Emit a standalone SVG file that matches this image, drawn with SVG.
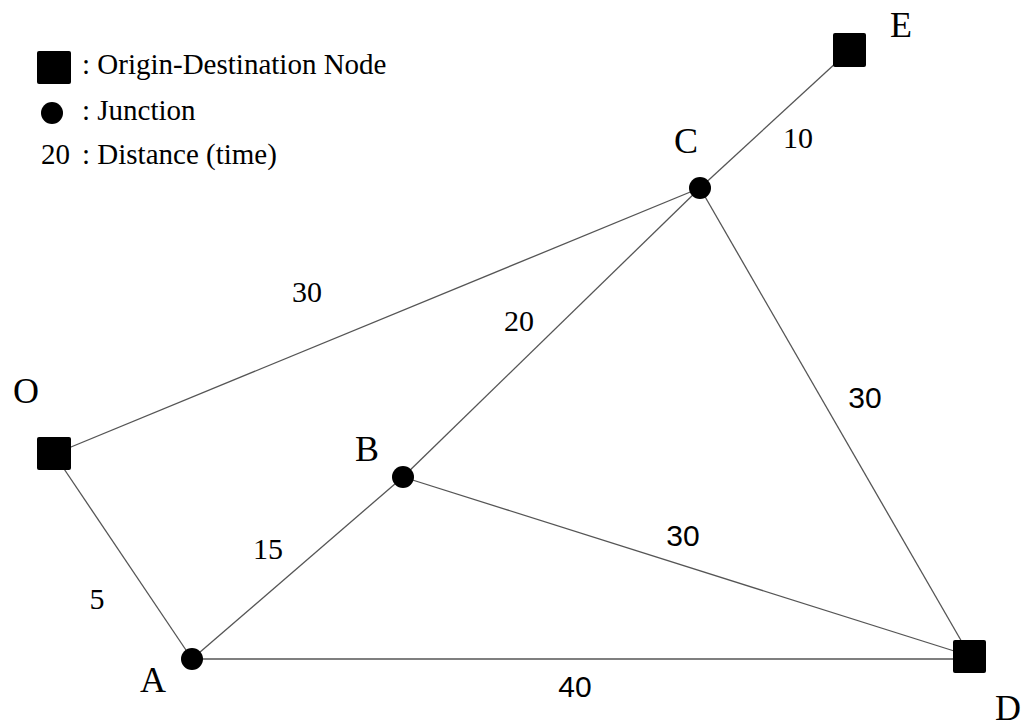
<svg xmlns="http://www.w3.org/2000/svg" width="1030" height="726" viewBox="0 0 1030 726" font-family="'Liberation Serif', 'Times New Roman', Times, serif">
<style>
text{font-family:'Liberation Serif','Times New Roman',Times,serif;fill:#000}
.lbl{font-size:36px;text-anchor:middle}
.num{font-size:30px;text-anchor:middle}
.sans{font-family:'Liberation Sans',Arial,sans-serif;font-size:30px;text-anchor:middle}
.leg{font-size:29px}
.edge{stroke:#555;stroke-width:1.3;fill:none}
.sq{fill:#000}
.jn{fill:#000}
</style>
<rect width="1030" height="726" fill="#fff"/>
<g id="legend">
<rect x="37" y="51" width="34" height="33" rx="2" class="sq"/>
<text x="82" y="74" class="leg">: Origin-Destination Node</text>
<circle cx="52" cy="113" r="11" class="jn"/>
<text x="82" y="120" class="leg">: Junction</text>
<text x="41" y="164" class="leg">20</text>
<text x="82" y="164" class="leg">: Distance (time)</text>
</g>
<g id="connectors">
<line class="edge" x1="54" y1="454" x2="700" y2="188"/>
<line class="edge" x1="54" y1="454" x2="192" y2="659"/>
<line class="edge" x1="192" y1="659" x2="403" y2="477"/>
<line class="edge" x1="192" y1="659" x2="970" y2="659"/>
<line class="edge" x1="403" y1="477" x2="700" y2="188"/>
<line class="edge" x1="403" y1="477" x2="970" y2="656"/>
<line class="edge" x1="700" y1="188" x2="970" y2="656"/>
<line class="edge" x1="700" y1="188" x2="850" y2="50"/>
<text class="num" x="798" y="148">10</text>
<text class="num" x="307" y="302">30</text>
<text class="num" x="519" y="331">20</text>
<text class="sans" x="865" y="408">30</text>
<text class="num" x="268" y="559">15</text>
<text class="num" x="97" y="609">5</text>
<text class="sans" x="683" y="546">30</text>
<text class="sans" x="575" y="697">40</text>
</g>
<g id="node-O">
<rect x="37" y="437" width="34" height="33" rx="2" class="sq"/>
<text class="lbl" x="26" y="403">O</text>
</g>
<g id="node-A">
<circle cx="192" cy="659" r="11" class="jn"/>
<text class="lbl" x="153" y="692">A</text>
</g>
<g id="node-B">
<circle cx="403" cy="477" r="11" class="jn"/>
<text class="lbl" x="367" y="461">B</text>
</g>
<g id="node-C">
<circle cx="700" cy="188" r="11" class="jn"/>
<text class="lbl" x="686" y="153">C</text>
</g>
<g id="node-D">
<rect x="953" y="640" width="33" height="33" rx="2" class="sq"/>
<text class="lbl" x="1008" y="720">D</text>
</g>
<g id="node-E">
<rect x="833" y="33" width="33" height="34" rx="2" class="sq"/>
<text class="lbl" x="901" y="37">E</text>
</g>
</svg>
